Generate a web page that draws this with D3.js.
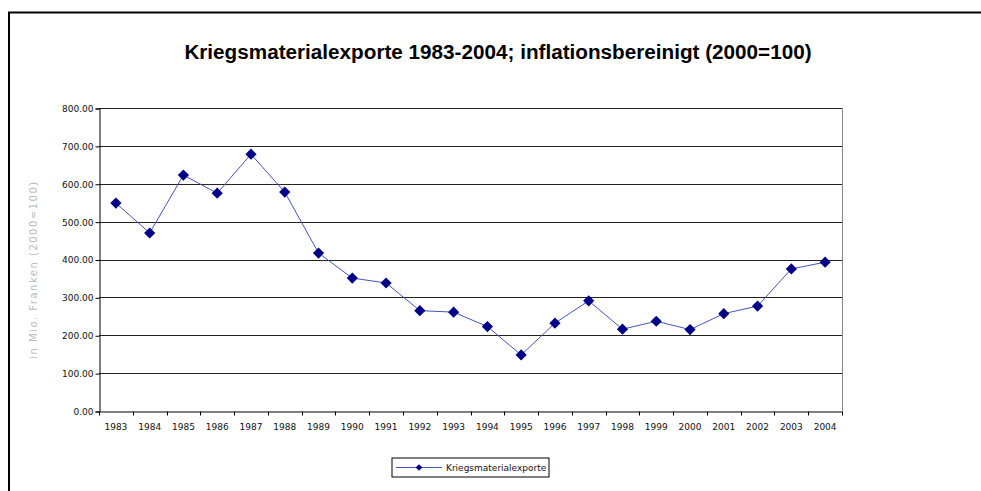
<!DOCTYPE html>
<html lang="de">
<head>
    <meta charset="UTF-8">
    <title>Kriegsmaterialexporte</title>
    <style>
    html, body {
        margin: 0;
        padding: 0;
        background-color: white;
    }

    svg {
        display: block;
    }

    #title {
        font-family: "Liberation Sans", Arial, sans-serif;
        font-weight: bold;
        font-size: 20.7px;
        fill: black;
    }

    .axis text {
        font-family: "DejaVu Sans", Verdana, sans-serif;
        font-size: 9px;
        fill: #111;
    }

    .grid line {
        stroke: #222;
        stroke-width: 1;
    }
    </style>
    <script src="https://d3js.org/d3.v7.min.js"></script>
</head>
<body>
    <svg id='canvas'></svg>

    <script>
    // Data
    let years = ['1983', '1984', '1985', '1986', '1987', '1988', '1989', '1990', '1991', '1992', '1993',
                 '1994', '1995', '1996', '1997', '1998', '1999', '2000', '2001', '2002', '2003', '2004'];
    let exports = [549, 470, 623, 575, 678, 578, 417, 351, 338, 265, 261,
                   223, 148, 232, 291, 216, 237, 215, 257, 277, 375, 393];
    let yTicks = [0, 100, 200, 300, 400, 500, 600, 700, 800];
    let seriesName = 'Kriegsmaterialexporte';
    let chartTitle = 'Kriegsmaterialexporte 1983-2004; inflationsbereinigt (2000=100)';
    let yTitle = 'in Mio. Franken (2000=100)';

    let width = 981;
    let height = 491;
    let plot = {left: 99, right: 842, top: 108, bottom: 411};
    let svg = d3.select('svg').attr('width', width).attr('height', height);

    // outer frame (only top and left edges visible)
    svg.append('path')
        .attr('d', 'M9,' + height + ' V12.5 H' + width)
        .attr('fill', 'none')
        .attr('stroke', 'black')
        .attr('stroke-width', 2);

    // Title
    svg.append('text')
        .attr('id', 'title')
        .attr('x', 498)
        .attr('y', 59)
        .attr('text-anchor', 'middle')
        .text(chartTitle);

    // Scales
    let xScale = d3.scaleBand()
        .domain(years)
        .range([plot.left, plot.right]);

    let yScale = d3.scaleLinear()
        .domain([0, 800])
        .range([plot.bottom, plot.top]);

    // Gridlines
    svg.append('g')
        .attr('class', 'grid')
        .selectAll('line')
        .data(yTicks.filter(d => d > 0))
        .enter()
        .append('line')
        .attr('x1', plot.left)
        .attr('x2', plot.right)
        .attr('y1', d => Math.round(yScale(d)) + 0.5)
        .attr('y2', d => Math.round(yScale(d)) + 0.5);

    // plot right border
    svg.append('line')
        .attr('x1', plot.right + 0.5)
        .attr('x2', plot.right + 0.5)
        .attr('y1', plot.top)
        .attr('y2', plot.bottom)
        .attr('stroke', '#888')
        .attr('stroke-width', 1);

    // Axes
    let yAxis = d3.axisLeft(yScale)
        .tickValues(yTicks)
        .tickSize(4)
        .tickPadding(2)
        .tickFormat(d3.format('.2f'));

    let gy = svg.append('g')
        .attr('class', 'axis')
        .attr('transform', 'translate(' + (plot.left + 0.5) + ', 0.5)')
        .call(yAxis);
    gy.select('.domain').attr('stroke', 'black');

    let xAxis = d3.axisBottom(xScale).tickSize(0).tickPadding(12);
    let gx = svg.append('g')
        .attr('class', 'axis')
        .attr('transform', 'translate(0, ' + (plot.bottom + 0.5) + ')')
        .call(xAxis);
    gx.select('.domain').attr('stroke', 'black');

    // tick marks at category boundaries
    let bounds = years.map(d => xScale(d)).concat([plot.right]);
    gx.selectAll('.bound')
        .data(bounds)
        .enter()
        .append('line')
        .attr('class', 'bound')
        .attr('x1', d => Math.round(d) + 0.5)
        .attr('x2', d => Math.round(d) + 0.5)
        .attr('y1', 0)
        .attr('y2', 4)
        .attr('stroke', 'black');

    // Y axis title
    svg.append('text')
        .attr('transform', 'translate(37, ' + ((plot.top + plot.bottom) / 2 + 10) + ') rotate(-90)')
        .attr('text-anchor', 'middle')
        .attr('font-family', '"DejaVu Sans", Verdana, sans-serif')
        .attr('font-size', 10)
        .attr('letter-spacing', 1.5)
        .attr('fill', '#bbb')
        .text(yTitle);

    // Line
    let line = d3.line()
        .x((d, i) => xScale(years[i]) + xScale.bandwidth() / 2)
        .y(d => yScale(d));

    svg.append('path')
        .datum(exports)
        .attr('d', line)
        .attr('fill', 'none')
        .attr('stroke', '#4455bb')
        .attr('stroke-width', 1);

    // Markers
    let diamond = d3.symbol().type(d3.symbolDiamond2).size(80);
    svg.selectAll('.marker')
        .data(exports)
        .enter()
        .append('path')
        .attr('class', 'marker')
        .attr('d', diamond)
        .attr('transform', (d, i) => 'translate(' + (xScale(years[i]) + xScale.bandwidth() / 2) + ',' + yScale(d) + ')')
        .attr('fill', '#000088');

    // Legend
    let legend = svg.append('g').attr('transform', 'translate(392, 458)');
    legend.append('rect')
        .attr('width', 157)
        .attr('height', 19)
        .attr('fill', 'white')
        .attr('stroke', 'black')
        .attr('stroke-width', 1);
    legend.append('line')
        .attr('x1', 4)
        .attr('x2', 50)
        .attr('y1', 9.5)
        .attr('y2', 9.5)
        .attr('stroke', '#4455bb')
        .attr('stroke-width', 1);
    legend.append('path')
        .attr('d', d3.symbol().type(d3.symbolDiamond2).size(28))
        .attr('transform', 'translate(27, 9.5)')
        .attr('fill', '#000088');
    legend.append('text')
        .attr('x', 54)
        .attr('y', 13)
        .attr('font-family', '"DejaVu Sans", Verdana, sans-serif')
        .attr('font-size', 9)
        .attr('fill', '#111')
        .text(seriesName);
    </script>
</body>
</html>
